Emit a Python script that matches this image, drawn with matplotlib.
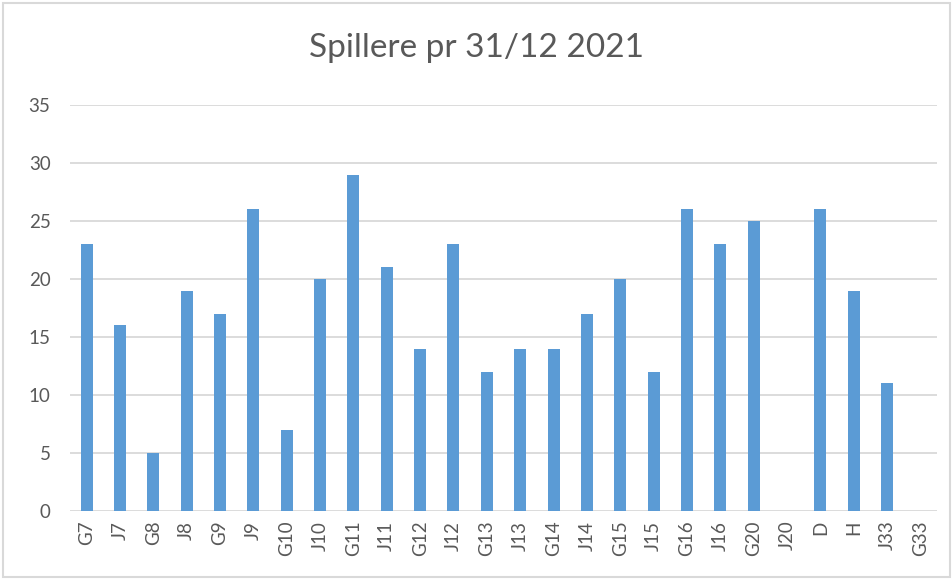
import matplotlib
matplotlib.use("Agg")
import matplotlib.pyplot as plt
from matplotlib.patches import Rectangle

plt.rcParams['font.family'] = ['Lato', 'DejaVu Sans']

# Data
lag = ['G7', 'J7', 'G8', 'J8', 'G9', 'J9', 'G10', 'J10', 'G11', 'J11', 'G12', 'J12', 'G13',
       'J13', 'G14', 'J14', 'G15', 'J15', 'G16', 'J16', 'G20', 'J20', 'D', 'H', 'J33', 'G33']
spillere = [23, 16, 5, 19, 17, 26, 7, 20, 29, 21, 14, 23, 12,
            14, 14, 17, 20, 12, 26, 23, 25, 0, 26, 19, 11, 0]
y_ticks = [0, 5, 10, 15, 20, 25, 30, 35]

text_color = '#595959'

fig = plt.figure(figsize=(9.53, 5.79), dpi=100)
ax = fig.add_axes([70/953, 68/579, 867/953, 406/579])

x = range(len(lag))
ax.bar(x, spillere, width=0.36, color='#5B9BD5', zorder=3)

ax.set_xlim(-0.5, len(lag) - 0.5)
ax.set_ylim(0, 35)
ax.set_yticks(y_ticks)
ax.set_xticks(list(x))
ax.set_xticklabels(lag, rotation=90)
ax.grid(axis='y', color='#D9D9D9', linewidth=1.3, zorder=0)
ax.tick_params(axis='both', length=0, labelsize=13.5, colors=text_color)
ax.tick_params(axis='y', pad=14)
ax.tick_params(axis='x', pad=7)
for s in ax.spines.values():
    s.set_visible(False)

fig.text(0.5, 1 - 48/579, 'Spillere pr 31/12 2021', ha='center', va='center',
         fontsize=24, color=text_color)

# ramme rundt figuren
fig.patches.append(Rectangle((0.003, 0.003), 0.994, 0.991, transform=fig.transFigure,
                             fill=False, edgecolor='#D9D9D9', linewidth=1.5))

fig.savefig('out.png', dpi=100)
